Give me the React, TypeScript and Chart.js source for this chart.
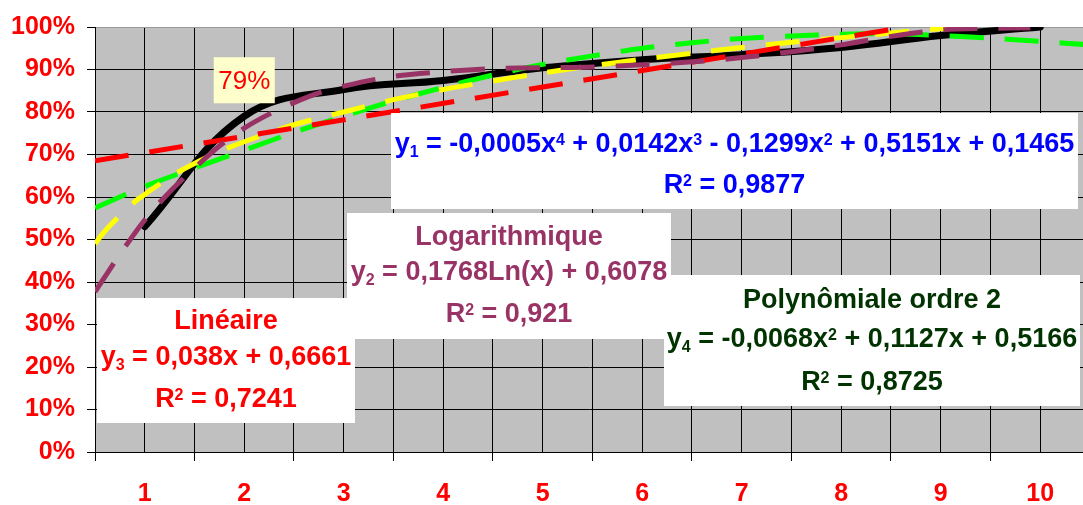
import React, { useEffect, useRef } from 'react';
import { Chart, registerables } from 'chart.js';

Chart.register(...registerables);

// ---------- data ----------
const categories = ['1', '2', '3', '4', '5', '6', '7', '8', '9', '10'];
const observed = [0.53, 0.79, 0.853, 0.874, 0.904, 0.923, 0.935, 0.952, 0.98, 1.0];

// linear trend (red)
const linearX = [0.5, 8.65];
const linearY = [0.685, 1.0];

// logarithmic trend (yellow)
const logX = [0.5, 0.6, 0.75, 0.9, 1.0, 1.25, 1.5, 1.75, 2.0, 2.5, 3.0, 3.5, 4.0, 4.5, 5.0, 5.5, 6.0, 6.5, 7.0, 7.5, 8.0, 8.5, 9.0, 9.25];
const logY = [0.49, 0.52, 0.556, 0.589, 0.606, 0.647, 0.679, 0.707, 0.73, 0.77, 0.8, 0.829, 0.853, 0.873, 0.892, 0.909, 0.924, 0.938, 0.952, 0.964, 0.975, 0.986, 0.996, 1.0];

// polynomial order 2 trend (green)
const poly2X = [0.5, 1, 1.5, 2, 2.5, 3, 3.5, 4, 4.5, 5, 5.5, 6, 6.5, 7, 7.5, 8, 8.5, 9, 9.5, 10, 10.5];
const poly2Y = [0.574, 0.625, 0.668, 0.71, 0.752, 0.79, 0.826, 0.858, 0.887, 0.912, 0.932, 0.95, 0.963, 0.973, 0.979, 0.983, 0.984, 0.98, 0.974, 0.966, 0.958];

// polynomial order 4 trend (purple)
const poly4X = [0.5, 0.75, 1.0, 1.25, 1.5, 1.75, 2.0, 2.25, 2.5, 2.75, 3.0, 3.5, 4.0, 4.5, 5.0, 5.5, 6.0, 6.5, 7.0, 7.5, 8.0, 8.5, 9.0, 9.5, 9.9];
const poly4Y = [0.377, 0.465, 0.546, 0.612, 0.668, 0.72, 0.762, 0.795, 0.822, 0.845, 0.861, 0.884, 0.895, 0.902, 0.904, 0.906, 0.911, 0.918, 0.928, 0.942, 0.958, 0.978, 0.993, 0.997, 0.998];

const xTickValues = [0.5, 1, 1.5, 2, 2.5, 3, 3.5, 4, 4.5, 5, 5.5, 6, 6.5, 7, 7.5, 8, 8.5, 9, 9.5, 10];
const labelIndex = 1; // the "79%" data label

// equation texts ( _x = subscript, ^x = superscript )
const eqPoly4 = ['y_1 = -0,0005x^4 + 0,0142x^3 - 0,1299x^2 + 0,5151x + 0,1465', 'R^2 = 0,9877'];
const eqLog = ['Logarithmique', 'y_2 = 0,1768Ln(x) + 0,6078', 'R^2 = 0,921'];
const eqLinear = ['Linéaire', 'y_3 = 0,038x + 0,6661', 'R^2 = 0,7241'];
const eqPoly2 = ['Polynômiale ordre 2', 'y_4 = -0,0068x^2 + 0,1127x + 0,5166', 'R^2 = 0,8725'];

const FONT = '"Liberation Sans", Arial, sans-serif';

const zip = (xs: number[], ys: number[]) => xs.map((x, i) => ({ x, y: ys[i] }));

type Seg = { t: string; k: 'n' | 'sub' | 'sup' };
function parseRich(s: string): Seg[] {
  const out: Seg[] = [];
  let buf = '';
  for (let i = 0; i < s.length; i++) {
    const c = s[i];
    if ((c === '_' || c === '^') && i + 1 < s.length) {
      if (buf) { out.push({ t: buf, k: 'n' }); buf = ''; }
      out.push({ t: s[i + 1], k: c === '_' ? 'sub' : 'sup' });
      i++;
    } else buf += c;
  }
  if (buf) out.push({ t: buf, k: 'n' });
  return out;
}

function drawRich(ctx: CanvasRenderingContext2D, s: string, cx: number, base: number, size: number, color: string) {
  const segs = parseRich(s);
  const small = Math.round(size * 0.6);
  const fMain = `bold ${size}px ${FONT}`;
  const fSmall = `bold ${small}px ${FONT}`;
  let total = 0;
  const widths = segs.map((g) => {
    ctx.font = g.k === 'n' ? fMain : fSmall;
    const w = ctx.measureText(g.t).width;
    total += w;
    return w;
  });
  let x = cx - total / 2;
  ctx.fillStyle = color;
  ctx.textAlign = 'left';
  ctx.textBaseline = 'alphabetic';
  segs.forEach((g, i) => {
    ctx.font = g.k === 'n' ? fMain : fSmall;
    const y = g.k === 'sub' ? base + 5 : g.k === 'sup' ? base - 7 : base;
    ctx.fillText(g.t, x, y);
    x += widths[i];
  });
}

const boxes = [
  { rect: [97, 298, 355, 423], color: '#FF0000', lines: eqLinear, bases: [329, 365, 406.5] },
  { rect: [347, 213, 671, 339], color: '#993366', lines: eqLog, bases: [245, 280, 321.5] },
  { rect: [664, 275, 1080, 406], color: '#003300', lines: eqPoly2, bases: [308, 346.5, 390] },
  { rect: [391, 113, 1078, 209], color: '#0000FF', lines: eqPoly4, bases: [151.5, 192.5] },
];

const bgPlugin = {
  id: 'plotBg',
  beforeDraw(chart: any) {
    const { ctx, chartArea: a } = chart;
    ctx.save();
    ctx.fillStyle = '#C0C0C0';
    ctx.fillRect(a.left, a.top, a.right - a.left, a.bottom - a.top);
    ctx.restore();
  },
};

const boxPlugin = {
  id: 'eqBoxes',
  afterDatasetsDraw(chart: any) {
    const { ctx } = chart;
    ctx.save();
    boxes.forEach((b) => {
      const [x0, y0, x1, y1] = b.rect;
      ctx.fillStyle = '#FFFFFF';
      ctx.fillRect(x0, y0, x1 - x0, y1 - y0);
    });
    boxes.forEach((b) => {
      const cx = (b.rect[0] + b.rect[2]) / 2;
      b.lines.forEach((ln, i) => drawRich(ctx, ln, cx, b.bases[i], 27, b.color));
    });
    // data label "79%"
    const xs = chart.scales.x;
    const ys = chart.scales.y;
    const v = observed[labelIndex];
    const px = xs.getPixelForValue(labelIndex + 1);
    const py = ys.getPixelForValue(v);
    const txt = Math.round(v * 100) + '%';
    ctx.font = `26px ${FONT}`;
    const w = ctx.measureText(txt).width;
    const bw = w + 9;
    const bh = 46;
    const by = py - 59;
    ctx.fillStyle = '#FFFFCC';
    ctx.fillRect(px - bw / 2, by, bw, bh);
    ctx.fillStyle = '#FF0000';
    ctx.textAlign = 'center';
    ctx.textBaseline = 'alphabetic';
    ctx.fillText(txt, px, by + 32);
    ctx.restore();
  },
};

export default function App() {
  const ref = useRef<HTMLCanvasElement | null>(null);

  useEffect(() => {
    if (!ref.current) return;
    const dash = [34, 21];
    const chart = new Chart(ref.current, {
      type: 'line',
      data: {
        datasets: [
          {
            label: 'poly4',
            data: zip(poly4X, poly4Y),
            borderColor: '#993366',
            borderWidth: 5,
            borderDash: dash,
            pointRadius: 0,
            tension: 0.3,
            clip: 0,
            order: 1,
          } as any,
          {
            label: 'linear',
            data: zip(linearX, linearY),
            borderColor: '#FF0000',
            borderWidth: 5,
            borderDash: dash,
            pointRadius: 0,
            tension: 0,
            clip: 0,
            order: 2,
          },
          {
            label: 'log',
            data: zip(logX, logY),
            borderColor: '#FFFF00',
            borderWidth: 5,
            borderDash: dash,
            pointRadius: 0,
            tension: 0.3,
            clip: 0,
            order: 3,
          },
          {
            label: 'poly2',
            data: zip(poly2X, poly2Y),
            borderColor: '#00FF00',
            borderWidth: 5,
            borderDash: dash,
            pointRadius: 0,
            tension: 0.3,
            clip: 0,
            order: 4,
          },
          {
            label: 'observed',
            data: categories.map((c, i) => ({ x: Number(c), y: observed[i] })),
            borderColor: '#000000',
            borderWidth: 7,
            borderCapStyle: 'round',
            borderJoinStyle: 'round',
            pointRadius: 0,
            tension: 0.4,
            order: 5,
          },
        ],
      },
      options: {
        animation: false,
        responsive: true,
        maintainAspectRatio: false,
        layout: { padding: { top: 22, left: 0, right: 0, bottom: 0 } },
        plugins: { legend: { display: false }, tooltip: { enabled: false } },
        scales: {
          x: {
            type: 'linear',
            min: 0.5,
            max: 10.43,
            afterBuildTicks: (s: any) => {
              s.ticks = xTickValues.map((v) => ({ value: v }));
            },
            afterFit: (s: any) => {
              s.height = 53;
            },
            ticks: {
              autoSkip: false,
              maxRotation: 0,
              padding: 18,
              color: '#FF0000',
              font: { family: FONT, size: 25, weight: 'bold' },
              callback: (v: any) => (Number.isInteger(v) ? categories[v - 1] : ''),
            },
            grid: {
              color: '#000000',
              lineWidth: 1,
              tickLength: 9,
              tickColor: (c: any) => (c.tick && c.tick.value % 1 !== 0 ? '#000000' : 'rgba(0,0,0,0)'),
            },
            border: { display: true, color: '#000000', width: 1 },
          },
          y: {
            min: 0,
            max: 1,
            afterFit: (s: any) => {
              s.width = 95;
            },
            ticks: {
              stepSize: 0.1,
              padding: 12,
              color: '#FF0000',
              font: { family: FONT, size: 25, weight: 'bold' },
              callback: (v: any) => Math.round(v * 100) + '%',
            },
            grid: {
              color: (c: any) => (c.tick && Math.abs(c.tick.value - 1) < 1e-6 ? '#999999' : '#000000'),
              lineWidth: 1,
              tickLength: 8,
              tickColor: '#000000',
            },
            border: { display: true, color: '#000000', width: 1 },
          },
        },
      },
      plugins: [bgPlugin, boxPlugin],
    } as any);
    return () => chart.destroy();
  }, []);

  return (
    <div style={{ position: 'fixed', left: 0, top: 0, width: 1083, height: 505, background: '#FFFFFF' }}>
      <canvas ref={ref} />
    </div>
  );
}
